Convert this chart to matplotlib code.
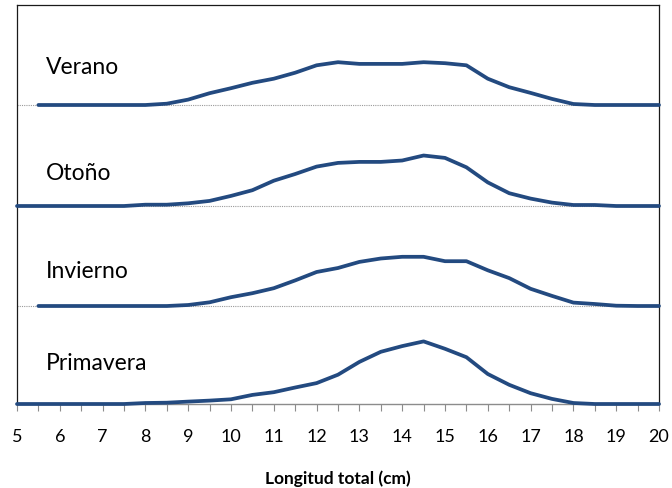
import numpy as np
import matplotlib
matplotlib.use("Agg")
import matplotlib.pyplot as plt

plt.rcParams['font.family'] = ['Lato', 'DejaVu Sans']

# Longitud total (cm) and relative frequency per season (arbitrary units)
x_verano = [5.5, 6, 6.5, 7, 7.5, 8, 8.5, 9, 9.5, 10, 10.5, 11, 11.5, 12, 12.5, 13, 13.5,
            14, 14.5, 15, 15.5, 16, 16.5, 17, 17.5, 18, 18.5, 19, 19.5, 20]
y_verano = [0, 0, 0, 0, 0, 0, 1.3, 5.4, 11.8, 16.8, 22.2, 26.3, 32.3, 39.7, 42.8, 41.1, 41.1,
            41.1, 42.8, 41.8, 39.7, 26.3, 17.8, 12.1, 6.1, 1.0, 0, 0, 0, 0]

x_otono = [5, 5.5, 6, 6.5, 7, 7.5, 8, 8.5, 9, 9.5, 10, 10.5, 11, 11.5, 12, 12.5, 13, 13.5,
           14, 14.5, 15, 15.5, 16, 16.5, 17, 17.5, 18, 18.5, 19, 19.5, 20]
y_otono = [0, 0, 0, 0, 0, 0, 1.3, 1.3, 2.7, 5.1, 10.1, 15.8, 25.3, 32.0, 39.4, 43.1, 44.1, 44.1,
           45.5, 50.5, 48.1, 38.7, 23.6, 12.8, 7.4, 3.4, 1.0, 1.0, 0, 0, 0]

x_invierno = [5.5, 6, 6.5, 7, 7.5, 8, 8.5, 9, 9.5, 10, 10.5, 11, 11.5, 12, 12.5, 13, 13.5,
              14, 14.5, 15, 15.5, 16, 16.5, 17, 17.5, 18, 18.5, 19, 19.5, 20]
y_invierno = [0, 0, 0, 0, 0, 0, 0, 1.0, 3.7, 8.8, 12.8, 17.8, 25.6, 34.0, 38.0, 44.1, 47.5,
              49.2, 49.2, 44.8, 44.8, 35.7, 27.9, 17.2, 10.1, 3.4, 2.0, 0.3, 0, 0]

x_primavera = [5, 5.5, 6, 6.5, 7, 7.5, 8, 8.5, 9, 9.5, 10, 10.5, 11, 11.5, 12, 12.5, 13, 13.5,
               14, 14.5, 15, 15.5, 16, 16.5, 17, 17.5, 18, 18.5, 19, 19.5, 20]
y_primavera = [0, 0, 0, 0, 0, 0, 1.0, 1.3, 2.4, 3.4, 4.7, 9.1, 11.8, 16.5, 20.9, 29.3, 42.1, 52.2,
               57.9, 62.6, 55.2, 46.8, 30.0, 19.2, 10.8, 5.1, 1.0, 0, 0, 0, 0]

series_names = ["Verano", "Otoño", "Invierno", "Primavera"]
series_x = [x_verano, x_otono, x_invierno, x_primavera]
series_y = [y_verano, y_otono, y_invierno, y_primavera]
offsets = [299, 198, 98, 0]
label_y = [337, 230, 132, 40]

xticks = list(range(5, 21))
xlabel = "Longitud total (cm)"

fig = plt.figure(figsize=(6.72, 4.88), dpi=100)
ax = fig.add_axes([17/672, 1 - 404/488, (659 - 17)/672, (404 - 5)/488])

line_color = "#234a80"
for name, xs, ys, off, ly in zip(series_names, series_x, series_y, offsets, label_y):
    if off > 0:
        ax.plot([5, 20], [off, off], color="#9a9a9a", lw=0.8, ls=(0, (1, 1)), zorder=1)
    ax.plot(xs, np.array(ys) + off, color=line_color, lw=2.7,
            solid_capstyle="round", solid_joinstyle="round", zorder=3, clip_on=False)
    ax.text(5.68, ly, name, fontsize=16.5, va="center", ha="left", color="black")

ax.set_xlim(5, 20)
ax.set_ylim(0, 399)
ax.set_yticks([])
ax.set_xticks(xticks)
ax.set_xticks(np.arange(5, 20.01, 0.5), minor=True)
ax.set_xticklabels([str(t) for t in xticks], fontsize=13)
ax.tick_params(axis="x", which="both", direction="out", length=5, width=0.8,
               color="#8c8c8c", pad=13)
ax.tick_params(axis="x", which="minor", length=5)
for s in ["left", "right", "top"]:
    ax.spines[s].set_color("#1a1a1a")
    ax.spines[s].set_linewidth(0.9)
ax.spines["bottom"].set_color("#8c8c8c")
ax.spines["bottom"].set_linewidth(1.0)
ax.set_xlabel(xlabel, fontsize=12.5, fontweight="bold", labelpad=18)

fig.savefig("out.png", dpi=100)
